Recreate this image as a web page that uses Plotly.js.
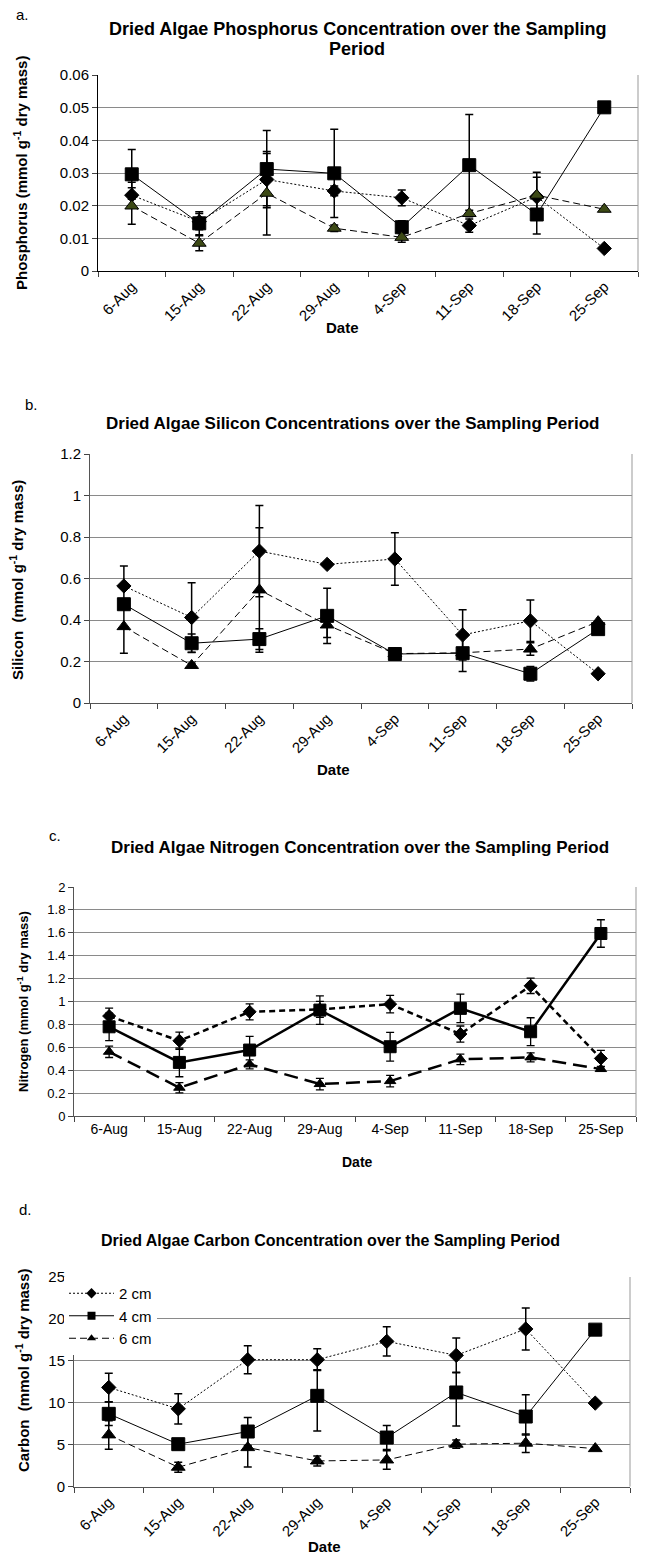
<!DOCTYPE html>
<html><head><meta charset="utf-8">
<script src="https://cdn.plot.ly/plotly-3.0.1.min.js"></script>
<style>html,body{margin:0;padding:0;background:#fff}#chart{width:646px;height:1554px}</style>
</head><body><div id="chart"></div>
<script>
// ---- categories ----
const dates = ['6-Aug','15-Aug','22-Aug','29-Aug','4-Sep','11-Sep','18-Sep','25-Sep'];
const seriesNames = ['2 cm','4 cm','6 cm'];

// ---- a. Phosphorus (mmol g-1 dry mass) ----
const phos2 = [0.0232,0.0151,0.0280,0.0245,0.0224,0.0139,0.0227,0.0069];
const phos2Err = [0.0040,0.0025,0.0080,0.0015,0.0024,0.0020,0.0060,0];
const phos4 = [0.0296,0.0146,0.0312,0.0299,0.0134,0.0324,0.0173,0.0501];
const phos4Err = [0.0076,0.0035,0.0118,0.0135,0.0020,0.0155,0.0060,0];
const phos6 = [0.0199,0.0085,0.0238,0.0131,0.0103,0.0176,0.0232,0.0189];
const phos6Err = [0.0056,0.0023,0.0128,0.0010,0.0015,0.0010,0.0070,0];

// ---- b. Silicon ----
const si2 = [0.564,0.412,0.732,0.668,0.694,0.328,0.396,0.141];
const si2Err = [0.096,0.168,0.220,0.010,0.126,0.121,0.100,0];
const si4 = [0.476,0.288,0.308,0.420,0.236,0.240,0.141,0.356];
const si4Err = [0.020,0.045,0.050,0.133,0.010,0.088,0.035,0];
const si6 = [0.368,0.181,0.545,0.376,0.238,0.242,0.260,0.392];
const si6Err = [0.128,0.010,0.300,0.060,0.010,0.020,0.030,0];

// ---- c. Nitrogen ----
const n2 = [0.873,0.657,0.910,0.931,0.977,0.716,1.137,0.503];
const n2Err = [0.070,0.075,0.070,0.070,0.076,0.070,0.067,0.070];
const n4 = [0.779,0.468,0.576,0.925,0.605,0.940,0.736,1.594];
const n4Err = [0.120,0.125,0.120,0.125,0.125,0.125,0.122,0.120];
const n6 = [0.561,0.247,0.451,0.279,0.305,0.495,0.512,0.410];
const n6Err = [0.050,0.045,0.040,0.050,0.050,0.046,0.040,0.020];

// ---- d. Carbon ----
const c2 = [11.82,9.27,15.13,15.13,17.32,15.65,18.80,9.95];
const c2Err = [1.70,1.80,1.68,1.30,1.75,2.07,2.50,0];
const c4 = [8.67,5.05,6.56,10.82,5.84,11.22,8.35,18.72];
const c4ErrPlus = [1.40,0,1.67,3.10,1.43,2.40,2.60,0];
const c4ErrMinus = [1.40,0,1.67,4.20,1.43,4.00,2.20,0];
const c6 = [6.16,2.30,4.64,3.05,3.17,5.05,5.17,4.52];
const c6Err = [1.70,0.60,2.30,0.60,1.10,0.50,1.10,0];

// ---- tick labels / titles ----
const titlesA = ['Dried Algae Phosphorus Concentration over the Sampling','Period'];
const titleB = 'Dried Algae Silicon Concentrations over the Sampling Period';
const titleC = 'Dried Algae Nitrogen Concentration over the Sampling Period';
const titleD = 'Dried Algae Carbon Concentration over the Sampling Period';
const yTitles = ['Phosphorus (mmol g<sup>-1</sup> dry mass)','Silicon  (mmol g<sup>-1</sup> dry mass)',
                 'Nitrogen (mmol g<sup>-1</sup> dry mass)','Carbon  (mmol g<sup>-1</sup> dry mass)'];
const panelLabels = ['a.','b.','c.','d.'];

const W = 646, H = 1554;
const FONT = 'Liberation Sans, Arial, sans-serif';
const px = v => v / W;
const py = v => 1 - v / H;

// panel geometry in pixels (style only)
const panels = [
  {l:98, r:638, t:75,  b:271,  range:[0,0.06], dtick:0.01, angle:-45, tf:15, thick:false, tri:'#3d4a16'},
  {l:90, r:632, t:454, b:703,  range:[0,1.2],  dtick:0.2,  angle:-45, tf:15, thick:false, tri:'#000'},
  {l:74, r:636, t:887, b:1116, range:[0,2],    dtick:0.2,  angle:0,   tf:13, thick:true,  tri:'#000'},
  {l:74, r:630, t:1277,b:1486.5,range:[0,25],  dtick:5,    angle:-45, tf:15, thick:false, tri:'#000'}
];

const data = [
  [[phos2,phos2Err,null],[phos4,phos4Err,null],[phos6,phos6Err,null]],
  [[si2,si2Err,null],[si4,si4Err,null],[si6,si6Err,null]],
  [[n2,n2Err,null],[n4,n4Err,null],[n6,n6Err,null]],
  [[c2,c2Err,null],[c4,c4ErrPlus,c4ErrMinus],[c6,c6Err,null]]
];

const traces = [];
const layout = {
  width: W, height: H, margin:{l:0,r:0,t:0,b:0},
  paper_bgcolor:'#fff', plot_bgcolor:'#fff',
  font:{family:FONT, color:'#000'},
  showlegend:true,
  legend:{x:px(64), y:py(1277), xanchor:'left', yanchor:'top', bgcolor:'#fff',
          font:{family:FONT, size:15, color:'#000'}, traceorder:'grouped', tracegroupgap:0,
          itemwidth:45},
  annotations:[], shapes:[]
};

const symbols = ['diamond','square','triangle-up'];

panels.forEach((p, i) => {
  const n = i + 1;
  const xa = 'xaxis' + (n > 1 ? n : ''), ya = 'yaxis' + (n > 1 ? n : '');
  const xr = 'x' + (n > 1 ? n : ''), yr = 'y' + (n > 1 ? n : '');
  layout[xa] = {
    domain:[px(p.l), px(p.r)], anchor:yr, type:'category',
    categoryorder:'array', categoryarray:dates, range:[-0.5, 7.5],
    tickangle:p.angle, tickson:'boundaries', ticks:'outside', ticklen:5, tickcolor:'#444',
    showline:true, linecolor: i===0 ? '#000' : '#555', linewidth:1, showgrid:false, zeroline:false,
    tickfont:{family:FONT, size: i===2 ? 14 : 15, color:'#000'}, fixedrange:true
  };
  layout[ya] = {
    domain:[py(p.b), py(p.t)], anchor:xr, range:p.range, dtick:p.dtick, tick0:0,
    ticks:'outside', ticklen:5, tickcolor:'#444', showline:true,
    linecolor: i===0 ? '#000' : '#555', linewidth:1,
    showgrid:true, gridcolor:'#8a8a8a', gridwidth:1, zeroline:false,
    tickfont:{family:FONT, size:p.tf, color:'#000'}, fixedrange:true
  };
  layout.shapes.push({type:'line', xref:xr+' domain', yref:yr+' domain', x0:1, x1:1, y0:0, y1:1,
                      line:{color:'#999', width:1}});

  const lw = p.thick ? 2.5 : 1;
  const dashes = p.thick ? ['6px,4px','solid','14px,7px'] : ['2px,2px','solid','7px,4px'];
  const sizes = p.thick ? [10,12,10] : [11,13,12];
  const fills = ['#000','#000',p.tri];
  data[i].forEach((s, k) => {
    const ey = {type:'data', array:s[1], color:'#000', thickness: p.thick ? 1.3 : 1.5, width:4, visible:true};
    if (s[2]) { ey.symmetric = false; ey.arrayminus = s[2]; }
    traces.push({
      type:'scatter', mode:'lines+markers', x:dates, y:s[0], xaxis:xr, yaxis:yr,
      name:seriesNames[k], showlegend:false,
      line:{color:'#000', width:lw, dash:dashes[k]},
      marker:{symbol:symbols[k], size:sizes[k], color:fills[k], line:{color:'#000', width:1}},
      error_y:ey, hoverinfo:'skip'
    });
  });
});

// legend entries (legend-only items, no plotted marks) for panel d
const legendDash = ['2px,2px','solid','7px,4px'];
const legendSize = [8,8,8];
seriesNames.forEach((nm, k) => {
  traces.push({type:'scatter', mode:'lines+markers', x:[null], y:[null], xaxis:'x4', yaxis:'y4',
    name:nm, legendgroup:nm, showlegend:true,
    line:{color:'#000', width:1, dash:legendDash[k]},
    marker:{symbol:symbols[k], size:legendSize[k], color:'#000'}, hoverinfo:'skip'});
});

// titles
const A = layout.annotations;
const ann = (text, x, y, size, bold, extra) => A.push(Object.assign({
  text, x:px(x), y:py(y), xref:'paper', yref:'paper', showarrow:false,
  xanchor:'center', yanchor:'middle',
  font:{family:FONT, size, color:'#000', weight: bold ? 'bold' : 'normal'}
}, extra || {}));

ann(titlesA[0], 357, 29, 18, true);
ann(titlesA[1], 357, 49, 18, true);
ann(titleB, 352, 424, 17, true);
ann(titleC, 360, 847, 17, true);
ann(titleD, 330, 1240, 16, true);

ann(panelLabels[0], 22, 14, 15, false);
ann(panelLabels[1], 31, 404, 15, false);
ann(panelLabels[2], 55, 835, 15, false);
ann(panelLabels[3], 25, 1209, 15, false);

ann(yTitles[0], 20, 173, 15, true, {textangle:-90});
ann(yTitles[1], 16, 580, 15, true, {textangle:-90});
ann(yTitles[2], 23, 1002, 13, true, {textangle:-90});
ann(yTitles[3], 22, 1370, 15, true, {textangle:-90});

ann('Date', 342, 327, 15, true);
ann('Date', 333, 769, 15, true);
ann('Date', 357, 1162, 14, true);
ann('Date', 324, 1546, 15, true);

Plotly.newPlot('chart', traces, layout, {displayModeBar:false, staticPlot:true});
</script></body></html>
